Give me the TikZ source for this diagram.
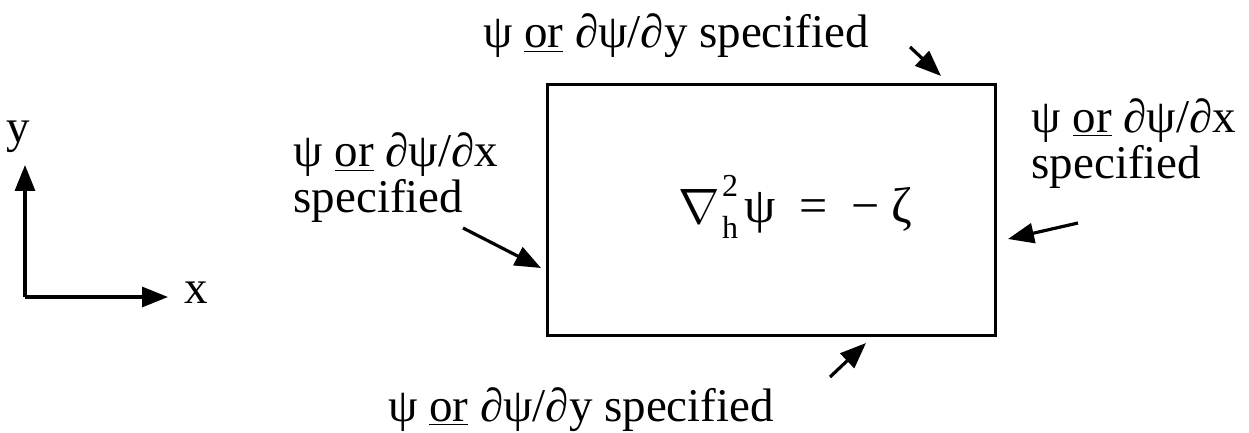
\documentclass[tikz,border=0pt]{standalone}
\usepackage{fontspec}
\setmainfont{Liberation Serif}
\usetikzlibrary{arrows.meta,positioning}

\begin{document}
\begin{tikzpicture}[x=0.5pt,y=-0.5pt,>={Triangle[length=13pt,width=10pt]},line width=1.6pt,
    every node/.style={font=\fontsize{23.5}{23}\selectfont,inner sep=0pt},
    spec/.style={align=left,anchor=base west}]
    \useasboundingbox (0,0) rectangle (1249,433);

    % axes
    \coordinate (o) at (25,297);
    \coordinate (ytip) at (25,165);
    \coordinate (xtip) at (168,297);
    \node (ylab) at (18,137) {y};
    \node (xlab) at (196,293) {x};
    \draw[->] (o) -- (ytip);
    \draw[->] (o) -- (xtip);

    % domain
    \node[draw,line width=1.5pt,minimum width=224pt,minimum height=125pt] (dom) at (771,210) {};
    \node[anchor=base west] (eqn) at (677,222) {\fontsize{25}{26}\selectfont\raisebox{-0.5pt}{\fontsize{23}{23}\selectfont$\nabla$}\hspace{1pt}\rlap{\raisebox{1.1ex}{\fontsize{16}{16}\selectfont 2}}\raisebox{-0.7ex}{\fontsize{16}{16}\selectfont h}\hspace{3pt}ψ\hspace{12pt}=\hspace{12pt}−\hspace{6pt}ζ};

    % boundaries
    \node[anchor=base] (top) at (676,48) {ψ \underline{or} ∂ψ/∂y specified};
    \node[anchor=base] (bot) at (581,421) {ψ \underline{or} ∂ψ/∂y specified};
    \node[spec] (lft) at (292,213) {ψ \underline{or} ∂ψ/∂x\\specified};
    \node[spec] (rgt) at (1030,178) {ψ \underline{or} ∂ψ/∂x\\specified};

    \coordinate (topa) at (910,47);
    \coordinate (topb) at (941,76);
    \coordinate (bota) at (830,377);
    \coordinate (botb) at (866,343);
    \coordinate (lfta) at (463,228);
    \coordinate (lftb) at (541,268);
    \coordinate (rgta) at (1078,223);
    \coordinate (rgtb) at (1008,239);
    \draw[->] (topa) -- (topb);
    \draw[->] (bota) -- (botb);
    \draw[->] (lfta) -- (lftb);
    \draw[->] (rgta) -- (rgtb);
\end{tikzpicture}
\end{document}
